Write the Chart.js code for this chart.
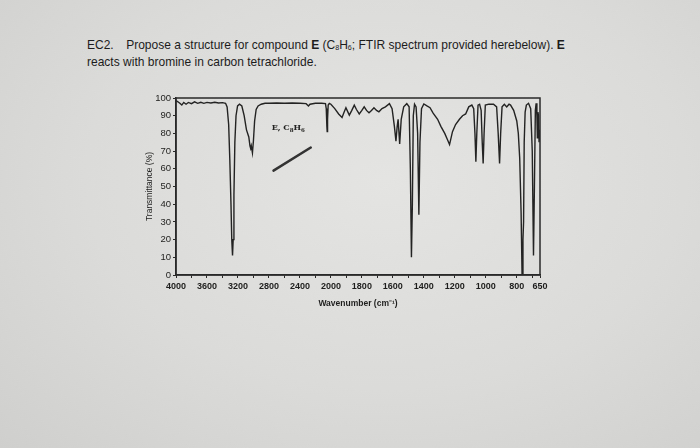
<!DOCTYPE html>
<html>
<head>
<meta charset="utf-8">
<script src="https://cdn.jsdelivr.net/npm/chart.js@4.4.1/dist/chart.umd.min.js"></script>
<style>
  html, body { margin: 0; padding: 0; }
  body {
    width: 700px; height: 448px; overflow: hidden; position: relative;
    background: radial-gradient(ellipse at 55% 40%, #e4e4e2 0%, #dbdbd9 55%, #cfcfcd 100%);
    font-family: "Liberation Sans", Arial, sans-serif;
  }
  #question {
    position: absolute; left: 87px; top: 36px; width: 700px;
    font-size: 13.5px; line-height: 17px; color: #1c1c1c;
    transform: scaleX(0.89); transform-origin: 0 0;
  }
  #question .gap { display: inline-block; width: 14px; }
  #question sub { font-size: 8px; vertical-align: -1px; line-height: 0; }
  #wrap { position: absolute; left: 0; top: 0; width: 700px; height: 448px; }
</style>
</head>
<body>
<div id="question">EC2.<span class="gap"></span>Propose a structure for compound <b>E</b> (C<sub>8</sub>H<sub>6</sub>; FTIR spectrum provided herebelow). <b>E</b><br>reacts with bromine in carbon tetrachloride.</div>
<div id="wrap"><canvas id="spectrum" width="700" height="448"></canvas></div>
<script>
// tick labels on the wavenumber axis (scale changes at 2000)
const xTickLabels = [4000, 3600, 3200, 2800, 2400, 2000, 1800, 1600, 1400, 1200, 1000, 800, 650];
const yTicks = [0, 10, 20, 30, 40, 50, 60, 70, 80, 90, 100];

// spectrum
const wavenumbers = [
  4000, 3980, 3950, 3925, 3900, 3870, 3840, 3800, 3760, 3720, 3680, 3640, 3600, 3550, 3500, 3450, 3400, 3360,
  3340, 3320, 3305, 3290, 3280, 3270, 3262, 3252, 3240, 3225, 3205, 3180, 3150, 3120, 3090, 3060, 3045, 3036,
  3028, 3013, 3000, 2985, 2965, 2940, 2900, 2850, 2800, 2700, 2600, 2500, 2400, 2320, 2290, 2270, 2200, 2120,
  2070, 2060, 2052, 2048, 2043, 2035, 2020, 2000, 1975, 1950, 1928, 1915, 1903, 1890, 1881, 1865, 1849, 1835,
  1817, 1800, 1785, 1770, 1754, 1738, 1722, 1705, 1690, 1670, 1648, 1622, 1605, 1590, 1580, 1572, 1566, 1556,
  1546, 1530, 1510, 1495, 1487, 1480, 1474, 1468, 1460, 1450, 1440, 1432, 1425, 1415, 1400, 1380, 1360, 1340,
  1311, 1290, 1265, 1250, 1234, 1215, 1195, 1170, 1150, 1130, 1110, 1090, 1078, 1070, 1064, 1058, 1050, 1040,
  1030, 1023, 1017, 1011, 1003, 980, 950, 930, 920, 911, 904, 895, 880, 865, 850, 840, 820, 800, 790, 781,
  772, 766, 760, 756, 752, 746, 738, 724, 710, 700, 692, 686, 680, 675, 670, 667, 663, 660, 656, 650
];
const transmittance = [
  98.5, 98, 97, 96, 97.5, 96.5, 97.5, 96.8, 97.8, 97, 97.6, 97, 97.5, 97.2, 97.6, 97.2, 97.4, 97,
  95, 85, 65, 40, 20, 11, 20, 45, 75, 90, 95.5, 96.5, 95.5, 90, 82, 78, 73, 71.5,
  73, 69, 76, 87, 93.5, 95.5, 96.5, 97, 97, 97.2, 97, 97.2, 97, 96.8, 95.5, 96.5, 97, 97,
  96.8, 94, 84, 81, 88, 96, 97, 96.5, 94, 91, 89, 92, 94.5, 92, 90.3, 93, 96, 93.5,
  91, 93, 95, 93, 91.7, 93, 94.5, 93, 92.2, 94, 95, 96.8, 94, 84, 75.6, 84, 88, 74,
  88, 95, 96.8, 95, 60, 10, 40, 90, 96.5, 95, 80, 34, 75, 94, 96.6, 95.5, 94.5, 91.5,
  88, 84, 80, 77, 73.7, 81, 85, 88, 90, 91, 95, 96, 94, 80, 64, 80, 96, 96.5,
  93, 75, 63, 80, 96, 96.5, 96.5, 95, 80, 63, 80, 95, 96.5, 95, 96.5, 96, 93, 87, 80, 66,
  35, 1, 20, 30, 75, 92, 96, 97, 94, 70, 11, 50, 93, 97, 90, 77.5, 92, 90, 75, 82
];

// stray pen stroke on the sheet
const penWavenumbers = [2741, 2260];
const penTransmittance = [59, 72];

// wavenumber -> axis position (400 per division above 2000, 200 per division below)
function toPos(wn) {
  return wn >= 2000 ? (4000 - wn) / 400 : 5 + (2000 - wn) / 200;
}

const spectrumPoints = wavenumbers.map((w, i) => ({ x: toPos(w), y: transmittance[i] }));
const penPoints = penWavenumbers.map((w, i) => ({ x: toPos(w), y: penTransmittance[i] }));

const majorPos = xTickLabels.map(toPos);
const tickPos = [];
for (let p = 0; p < 11.75; p += 0.5) tickPos.push(p);
tickPos.push(11.75);

const framePlugin = {
  id: 'frame',
  afterDatasetsDraw(chart) {
    const { ctx, chartArea: a } = chart;
    ctx.save();
    ctx.strokeStyle = '#2a2a2a';
    ctx.lineWidth = 1.5;
    ctx.strokeRect(a.left, a.top, a.right - a.left, a.bottom - a.top);
    // compound label inside the plot
    const xs = chart.scales.x, ys = chart.scales.y;
    ctx.fillStyle = '#222';
    ctx.textAlign = 'left';
    ctx.textBaseline = 'middle';
    let x = xs.getPixelForValue(toPos(2765));
    const y = ys.getPixelForValue(83);
    const parts = [['E, C', 8, 0], ['8', 5.5, 2.2], ['H', 8, 0], ['6', 5.5, 2.2]];
    parts.forEach(([t, size, dy]) => {
      ctx.font = 'bold ' + size + 'px "DejaVu Serif", "Liberation Serif", serif';
      ctx.fillText(t, x, y + dy);
      x += ctx.measureText(t).width;
    });
    ctx.restore();
  }
};

new Chart(document.getElementById('spectrum'), {
  type: 'line',
  data: {
    datasets: [
      {
        label: 'E, C8H6',
        data: spectrumPoints,
        borderColor: '#232323',
        borderWidth: 1.4,
        pointRadius: 0,
        tension: 0,
        fill: false
      },
      {
        label: 'pen',
        data: penPoints,
        borderColor: '#333',
        borderWidth: 2.5,
        borderCapStyle: 'round',
        pointRadius: 0,
        fill: false
      }
    ]
  },
  plugins: [framePlugin],
  options: {
    responsive: false,
    animation: false,
    layout: { padding: { left: 145, right: 160, top: 98, bottom: 139 } },
    plugins: { legend: { display: false }, tooltip: { enabled: false } },
    scales: {
      x: {
        type: 'linear',
        min: 0,
        max: 11.75,
        afterBuildTicks(scale) {
          scale.ticks = tickPos.map(v => ({ value: v }));
        },
        afterFit(scale) { scale.height = 34; },
        ticks: {
          autoSkip: false,
          maxRotation: 0,
          padding: 3,
          color: '#1e1e1e',
          font: { size: 9, weight: 'bold', family: '"Liberation Sans", Arial, sans-serif' },
          callback(value) {
            const i = majorPos.findIndex(p => Math.abs(p - value) < 0.01);
            return i >= 0 ? String(xTickLabels[i]) : '';
          }
        },
        grid: { drawOnChartArea: false, tickLength: 3, color: '#2a2a2a', lineWidth: 1 },
        border: { display: true, color: '#2a2a2a', width: 1.5 },
        title: {
          display: true,
          text: 'Wavenumber (cm\u207B\u00B9)',
          color: '#1e1e1e',
          padding: { top: 3, bottom: 0 },
          font: { size: 8.5, weight: 'bold', family: '"Liberation Sans", Arial, sans-serif' }
        }
      },
      y: {
        min: 0,
        max: 100,
        afterBuildTicks(scale) {
          scale.ticks = yTicks.map(v => ({ value: v }));
        },
        afterFit(scale) { scale.width = 31; },
        ticks: {
          padding: 2,
          color: '#1e1e1e',
          font: { size: 9.5, family: '"Liberation Sans", Arial, sans-serif' }
        },
        grid: { drawOnChartArea: false, tickLength: 3, color: '#2a2a2a', lineWidth: 1 },
        border: { display: true, color: '#2a2a2a', width: 1.5 },
        title: {
          display: true,
          text: 'Transmittance (%)',
          color: '#1e1e1e',
          padding: { top: 0, bottom: 2 },
          font: { size: 8.5, family: '"Liberation Sans", Arial, sans-serif' }
        }
      }
    }
  }
});
</script>
</body>
</html>
